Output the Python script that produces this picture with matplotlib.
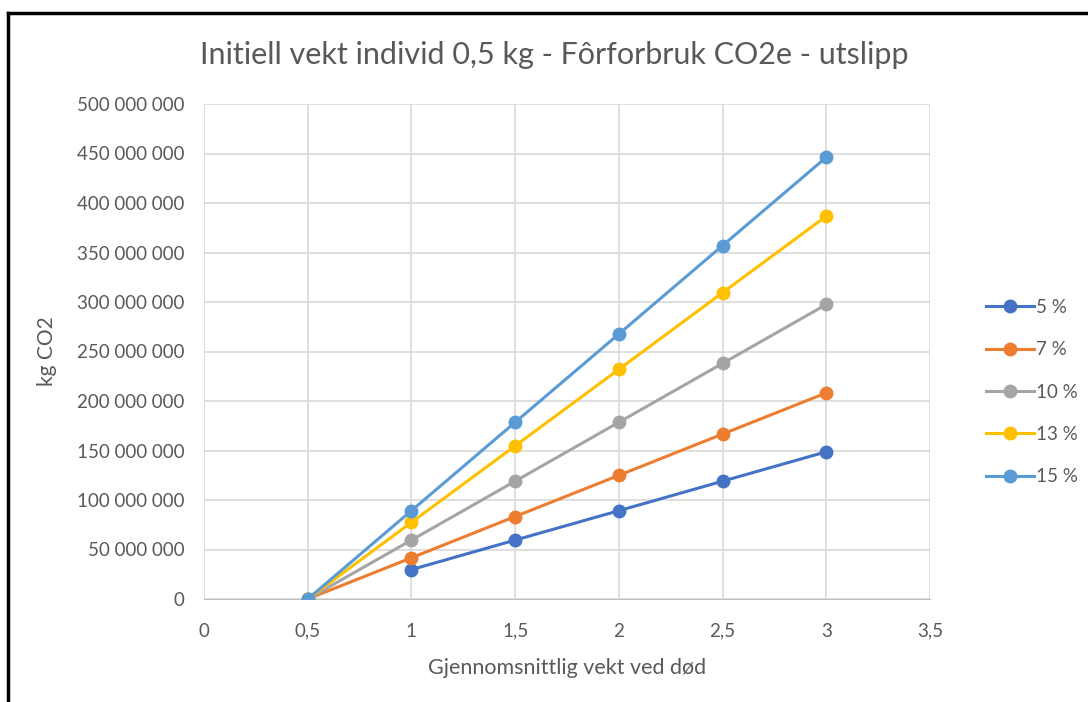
import matplotlib.pyplot as plt
from matplotlib.ticker import FuncFormatter, MultipleLocator
from matplotlib.lines import Line2D

plt.rcParams['font.family'] = ['Lato', 'DejaVu Sans']

# gjennomsnittlig vekt ved død (kg)
vekt = [0.5, 1, 1.5, 2, 2.5, 3]
serier = ['5 %', '7 %', '10 %', '13 %', '15 %']
# kg CO2 (5 % mangler punkt ved 0,5)
co2_5 = [None, 29.7e6, 59.5e6, 89.2e6, 119.0e6, 148.7e6]
co2_7 = [0, 41.6e6, 83.3e6, 124.9e6, 166.6e6, 208.2e6]
co2_10 = [0, 59.5e6, 119.0e6, 178.5e6, 238.0e6, 297.5e6]
co2_13 = [0, 77.4e6, 154.7e6, 232.0e6, 309.4e6, 386.8e6]
co2_15 = [0, 89.2e6, 178.5e6, 267.7e6, 357.0e6, 446.2e6]
farger = ['#4472C4', '#ED7D31', '#A5A5A5', '#FFC000', '#5B9BD5']

tekst = '#595959'

fig = plt.figure(figsize=(10.88, 7.02), dpi=100)
ax = fig.add_axes([204/1088, 1-599/702, 726/1088, 495/702])

for navn, verdier, farge in zip(serier, [co2_5, co2_7, co2_10, co2_13, co2_15], farger):
    xs = [x for x, v in zip(vekt, verdier) if v is not None]
    ys = [v for v in verdier if v is not None]
    ax.plot(xs, ys, color=farge, lw=2.2, marker='o', markersize=9, label=navn, zorder=3)

ax.set_xlim(0, 3.5)
ax.set_ylim(0, 500e6)
ax.xaxis.set_major_locator(MultipleLocator(0.5))
ax.yaxis.set_major_locator(MultipleLocator(50e6))
ax.xaxis.set_major_formatter(FuncFormatter(lambda v, p: ('%g' % v).replace('.', ',')))
ax.yaxis.set_major_formatter(FuncFormatter(lambda v, p: '{:,.0f}'.format(v).replace(',', ' ')))
ax.grid(True, color='#D9D9D9', lw=1.2)
ax.set_axisbelow(True)
for s in ax.spines.values():
    s.set_visible(False)
ax.spines['bottom'].set_visible(True)
ax.spines['bottom'].set_color('#BFBFBF')
ax.tick_params(length=0, labelsize=13.5, labelcolor=tekst)
ax.tick_params(axis='y', pad=14)
ax.tick_params(axis='x', pad=17)

ax.set_xlabel('Gjennomsnittlig vekt ved død', fontsize=15.5, color=tekst, labelpad=13)
ax.set_ylabel('kg CO2', fontsize=15, color=tekst, labelpad=14)
fig.text(554/1088, 1-55/702, 'Initiell vekt individ 0,5 kg - Fôrforbruk CO2e - utslipp',
         ha='center', va='center', fontsize=22, color=tekst)

fig.legend(loc='center left', bbox_to_anchor=(978/1088, 1-392/702), frameon=False,
           fontsize=13.5, labelcolor=tekst, handlelength=2.6, handletextpad=0.1,
           labelspacing=1.35, borderaxespad=0)

# svart ramme (venstre og topp)
fig.add_artist(Line2D([7.5/1088, 7.5/1088], [0, 1-13/702], color='black', lw=2.5, transform=fig.transFigure))
fig.add_artist(Line2D([7.5/1088, 1], [1-13/702, 1-13/702], color='black', lw=2.5, transform=fig.transFigure))

fig.savefig('out.png', dpi=100)
